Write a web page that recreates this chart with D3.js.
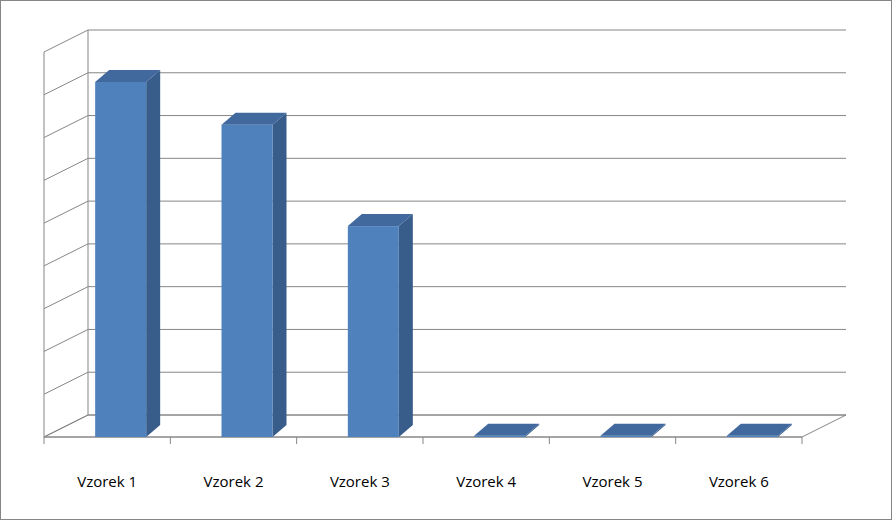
<!DOCTYPE html><html><head><meta charset="utf-8">
<script src="https://cdn.jsdelivr.net/npm/d3@7"></script>
<style>body{margin:0;background:#fff}</style></head><body>
<svg id="c" width="892" height="520"></svg>
<script>
const categories=["Vzorek 1","Vzorek 2","Vzorek 3","Vzorek 4","Vzorek 5","Vzorek 6"];
const values=[8.3,7.3,4.93,0.03,0.03,0.03];
const gridLevels=[0,1,2,3,4,5,6,7,8,9];
const svg=d3.select("#c");
const DX=44,DY=-22;
svg.append("rect").attr("x",0.5).attr("y",0.5).attr("width",891).attr("height",519).attr("fill","#fff").attr("stroke","#868686");
const x=d3.scaleBand().domain(categories).range([44,802]);
const y=d3.scaleLinear().domain([0,9]).range([437,52]);
const g=svg.append("g");
// floor
g.append("polygon").attr("points",[[44,437],[802,437],[802+DX,437+DY],[44+DX,437+DY]].join(" ")).attr("fill","none").attr("stroke","#868686");
// grid
gridLevels.forEach(k=>{const yy=y(k);
 g.append("line").attr("x1",44+DX).attr("x2",802+DX).attr("y1",yy+DY).attr("y2",yy+DY).attr("stroke","#868686");
 g.append("line").attr("x1",44).attr("x2",44+DX).attr("y1",yy).attr("y2",yy+DY).attr("stroke","#868686");});
g.append("line").attr("x1",44+DX).attr("x2",44+DX).attr("y1",y(0)+DY).attr("y2",y(9)+DY).attr("stroke","#868686");
g.append("line").attr("x1",44).attr("x2",44).attr("y1",y(0)).attr("y2",y(9)).attr("stroke","#868686");
g.append("line").attr("x1",44).attr("x2",802).attr("y1",437).attr("y2",437).attr("stroke","#868686");
[...categories.map(c=>x(c)),802].forEach(t=>g.append("line").attr("x1",t).attr("x2",t).attr("y1",437).attr("y2",444).attr("stroke","#868686"));
// bars
const bw=51,bdx=14,bdy=-12;
categories.forEach((c,i)=>{const x0=x(c)+x.bandwidth()/2-12,x1=x0+bw,yt=y(values[i]),yb=437;
 g.append("polygon").attr("points",[[x1,yb],[x1+bdx,yb+bdy],[x1+bdx,yt+bdy],[x1,yt]].join(" ")).attr("fill","#385d8a");
 g.append("rect").attr("x",x0).attr("y",yt).attr("width",bw).attr("height",yb-yt).attr("fill","#4f81bd");
 g.append("polygon").attr("points",[[x0,yt],[x1,yt],[x1+bdx,yt+bdy],[x0+bdx,yt+bdy]].join(" ")).attr("fill","#41699e");
 svg.append("text").attr("x",x(c)+x.bandwidth()/2).attr("y",487).attr("text-anchor","middle").attr("font-family","Open Sans, sans-serif").attr("font-size",15).attr("fill","#000").text(c);
});
</script></body></html>
